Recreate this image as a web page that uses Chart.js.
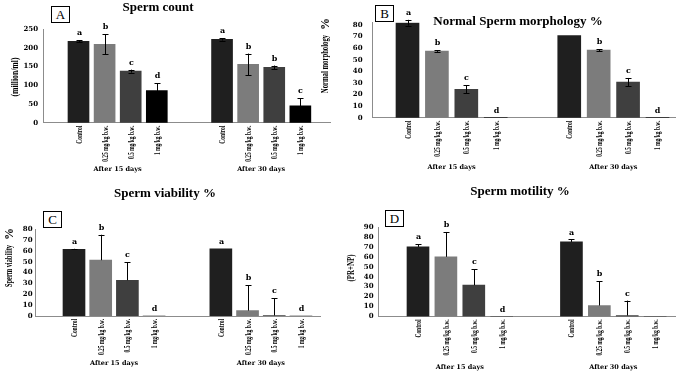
<!DOCTYPE html>
<html>
<head>
<meta charset="utf-8">
<script src="https://cdn.jsdelivr.net/npm/chart.js@4.4.0/dist/chart.umd.min.js"></script>
<style>
  body { margin: 0; background: #fff; width: 676px; height: 371px; overflow: hidden; position: relative; font-family: 'Liberation Serif', serif; }
  canvas { position: absolute; left: 0; top: 0; }
  .title { position: absolute; font-weight: bold; font-size: 13px; line-height: 1; white-space: nowrap; transform: translate(-50%, -50%); }
  .box { position: absolute; border: 1px solid #000; width: 17px; height: 15px; font-size: 13px; line-height: 15px; text-align: center; background: #fff; }
  .ylab { position: absolute; font-weight: bold; line-height: 1; white-space: nowrap; }
</style>
</head>
<body>
<canvas id="chartA" width="676" height="371"></canvas>
<canvas id="chartB" width="676" height="371"></canvas>
<canvas id="chartC" width="676" height="371"></canvas>
<canvas id="chartD" width="676" height="371"></canvas>

<div class="title" style="left:158px;top:6px">Sperm count</div>
<div class="title" style="left:518px;top:20px">Normal Sperm morphology %</div>
<div class="title" style="left:165px;top:192px">Sperm viability %</div>
<div class="title" style="left:520px;top:190px">Sperm motility %</div>

<div class="box" style="left:51px;top:6px">A</div>
<div class="box" style="left:375px;top:5px">B</div>
<div class="box" style="left:43px;top:211px">C</div>
<div class="box" style="left:385px;top:210px">D</div>

<script>
// bars: Control, 0.25, 0.5, 1 mg/kg  -> after 15 days, then after 30 days
const doses = ['Control', '0.25 mg/kg b.w.', '0.5 mg/kg b.w.', '1 mg/kg b.w.'];
const periods = ['After 15 days', 'After 30 days'];

const countMean = [218, 210, 138, 86, 223, 156, 148, 45];
const countErr = [3, 27, 4, 20, 3, 29, 5, 20];
const countLetters = ['a', 'b', 'c', 'd', 'a', 'b', 'b', 'c'];
const countTicks = [0, 50, 100, 150, 200, 250];

const morphMean = [82, 57.6, 24.5, 0, 70.8, 58.4, 30.8, 0];
const morphErr = [2.5, 0.8, 3.5, 0, 0, 0.8, 3.5, 0];
const morphLetters = ['a', 'b', 'c', 'd', '', 'b', 'c', 'd'];
const morphTicks = [0, 10, 20, 30, 40, 50, 60, 70, 80];

const viabMean = [61.5, 51.5, 33, 0, 62, 5, 0.5, 0];
const viabErr = [0.5, 23.5, 16.5, 0, 0, 23.5, 16, 0];
const viabLetters = ['a', 'b', 'c', 'd', 'a', 'b', 'c', 'd'];
const viabTicks = [0, 10, 20, 30, 40, 50, 60, 70, 80];

const motilMean = [70, 60, 31.5, 0, 75, 11, 1, 0];
const motilErr = [2.5, 25, 16, 0, 2.5, 24.5, 15, 0];
const motilLetters = ['a', 'b', 'c', 'd', 'a', 'b', 'c', ''];
const motilTicks = [0, 10, 20, 30, 40, 50, 60, 70, 80, 90];

const barColors = ['#1f1f1f', '#7c7c7c', '#3f3f3f', '#000000'];
const serif = 'Liberation Serif';
const wide = 'DejaVu Serif';
const axisW = 30; // fixed width of every y axis box

// slot on the x axis: 4 bars, a gap of 1.5, 4 bars
function slot(i) {
    return (i % 4) + Math.floor(i / 4) * 5.5;
}

const panels = [
    { id: 'chartA', mean: countMean, err: countErr, letters: countLetters, ticks: countTicks, yMax: 250, both: true,
      area: { left: 43, top: 29.3, right: 330, bottom: 122.7 }, x0: 78.5, step: 26.1, bar: 21, tickPad: 5, groupY: 169 },
    { id: 'chartB', mean: morphMean, err: morphErr, letters: morphLetters, ticks: morphTicks, yMax: 82, both: true,
      area: { left: 372.5, top: 22.7, right: 676, bottom: 117.7 }, x0: 407.5, step: 29.41, bar: 23, tickPad: 10, groupY: 167 },
    { id: 'chartC', mean: viabMean, err: viabErr, letters: viabLetters, ticks: viabTicks, yMax: 80, both: false,
      area: { left: 35.5, top: 229.3, right: 320, bottom: 316 }, x0: 74, step: 26.7, bar: 22, tickPad: 3, groupY: 363 },
    { id: 'chartD', mean: motilMean, err: motilErr, letters: motilLetters, ticks: motilTicks, yMax: 90, both: false,
      area: { left: 378.5, top: 227, right: 676, bottom: 316.5 }, x0: 418, step: 27.9, bar: 22, tickPad: 5, groupY: 367 }
];

function extras(p) {
    return {
        id: 'extras',
        afterDatasetsDraw(chart) {
            const ctx = chart.ctx;
            const xs = chart.scales.x, ys = chart.scales.y;
            ctx.save();
            ctx.strokeStyle = '#000';
            ctx.fillStyle = '#000';
            ctx.lineWidth = 1;
            p.mean.forEach((m, i) => {
                const x = Math.round(xs.getPixelForValue(slot(i))) + 0.5;
                const e = p.err[i];
                const top = ys.getPixelForValue(m + e);
                if (e > 0) {
                    const bot = ys.getPixelForValue(p.both ? Math.max(m - e, 0) : m);
                    ctx.beginPath();
                    ctx.moveTo(x, top);
                    ctx.lineTo(x, bot);
                    ctx.moveTo(x - 3, Math.round(top) + 0.5);
                    ctx.lineTo(x + 3, Math.round(top) + 0.5);
                    if (p.both) {
                        ctx.moveTo(x - 3, Math.round(bot) + 0.5);
                        ctx.lineTo(x + 3, Math.round(bot) + 0.5);
                    }
                    ctx.stroke();
                }
                // significance letters
                ctx.font = 'bold 8px ' + wide;
                ctx.textAlign = 'center';
                ctx.textBaseline = 'middle';
                ctx.fillText(p.letters[i], x, top - 7);

                // dose labels, rotated and narrow
                ctx.save();
                ctx.translate(x, ys.getPixelForValue(0) + 3);
                ctx.rotate(-Math.PI / 2);
                ctx.scale(0.68, 1);
                ctx.font = 'bold 8px ' + serif;
                ctx.textAlign = 'right';
                ctx.textBaseline = 'middle';
                ctx.fillText(doses[i % 4], 0, 0);
                ctx.restore();
            });
            // period labels under each group
            ctx.font = 'bold 6.5px ' + wide;
            ctx.textAlign = 'center';
            ctx.textBaseline = 'middle';
            periods.forEach((label, g) => {
                const cx = (xs.getPixelForValue(slot(g * 4)) + xs.getPixelForValue(slot(g * 4 + 3))) / 2;
                ctx.fillText(label, cx, p.groupY);
            });
            ctx.restore();
        }
    };
}

panels.forEach(p => {
    new Chart(document.getElementById(p.id), {
        type: 'bar',
        data: {
            datasets: [{
                data: p.mean.map((v, i) => ({ x: slot(i), y: v })),
                backgroundColor: p.mean.map((v, i) => barColors[i % 4]),
                barThickness: p.bar,
                borderWidth: 0
            }]
        },
        options: {
            responsive: false,
            animation: false,
            devicePixelRatio: 1,
            layout: {
                padding: { left: p.area.left - axisW, top: p.area.top, right: 676 - p.area.right, bottom: 371 - p.area.bottom }
            },
            plugins: {
                legend: { display: false },
                tooltip: { enabled: false }
            },
            scales: {
                x: {
                    type: 'linear',
                    offset: false,
                    min: (p.area.left - p.x0) / p.step,
                    max: (p.area.right - p.x0) / p.step,
                    grid: { display: false, drawTicks: false, offset: false },
                    border: { color: '#8c8c8c' },
                    ticks: { display: false },
                    afterFit(s) { s.height = 0; }
                },
                y: {
                    min: 0,
                    max: p.yMax,
                    grid: { display: false, drawTicks: false },
                    border: { color: '#8c8c8c' },
                    ticks: { padding: p.tickPad, color: '#000', autoSkip: false, font: { family: wide, weight: 'bold', size: 7 } },
                    afterBuildTicks(s) { s.ticks = p.ticks.map(v => ({ value: v })); },
                    afterFit(s) { s.width = axisW; }
                }
            }
        },
        plugins: [extras(p)]
    });
});
</script>

<div class="ylab" style="left:15px;top:77px;font-size:10px;transform:translate(-50%,-50%) rotate(-90deg) scaleX(0.77)">(million/ml)</div>
<div class="ylab" style="left:325px;top:64px;font-size:10px;transform:translate(-50%,-50%) rotate(-90deg) scaleX(0.67)">Normal morphology</div>
<div class="ylab" style="left:325px;top:24px;font-size:12px;transform:translate(-50%,-50%) rotate(-90deg)">%</div>
<div class="ylab" style="left:9px;top:266px;font-size:10px;transform:translate(-50%,-50%) rotate(-90deg) scaleX(0.64)">Sperm viability</div>
<div class="ylab" style="left:9px;top:234px;font-size:12px;transform:translate(-50%,-50%) rotate(-90deg)">%</div>
<div class="ylab" style="left:350px;top:268px;font-size:11px;transform:translate(-50%,-50%) rotate(-90deg) scaleX(0.63)">(PR+NP)</div>
</body>
</html>
